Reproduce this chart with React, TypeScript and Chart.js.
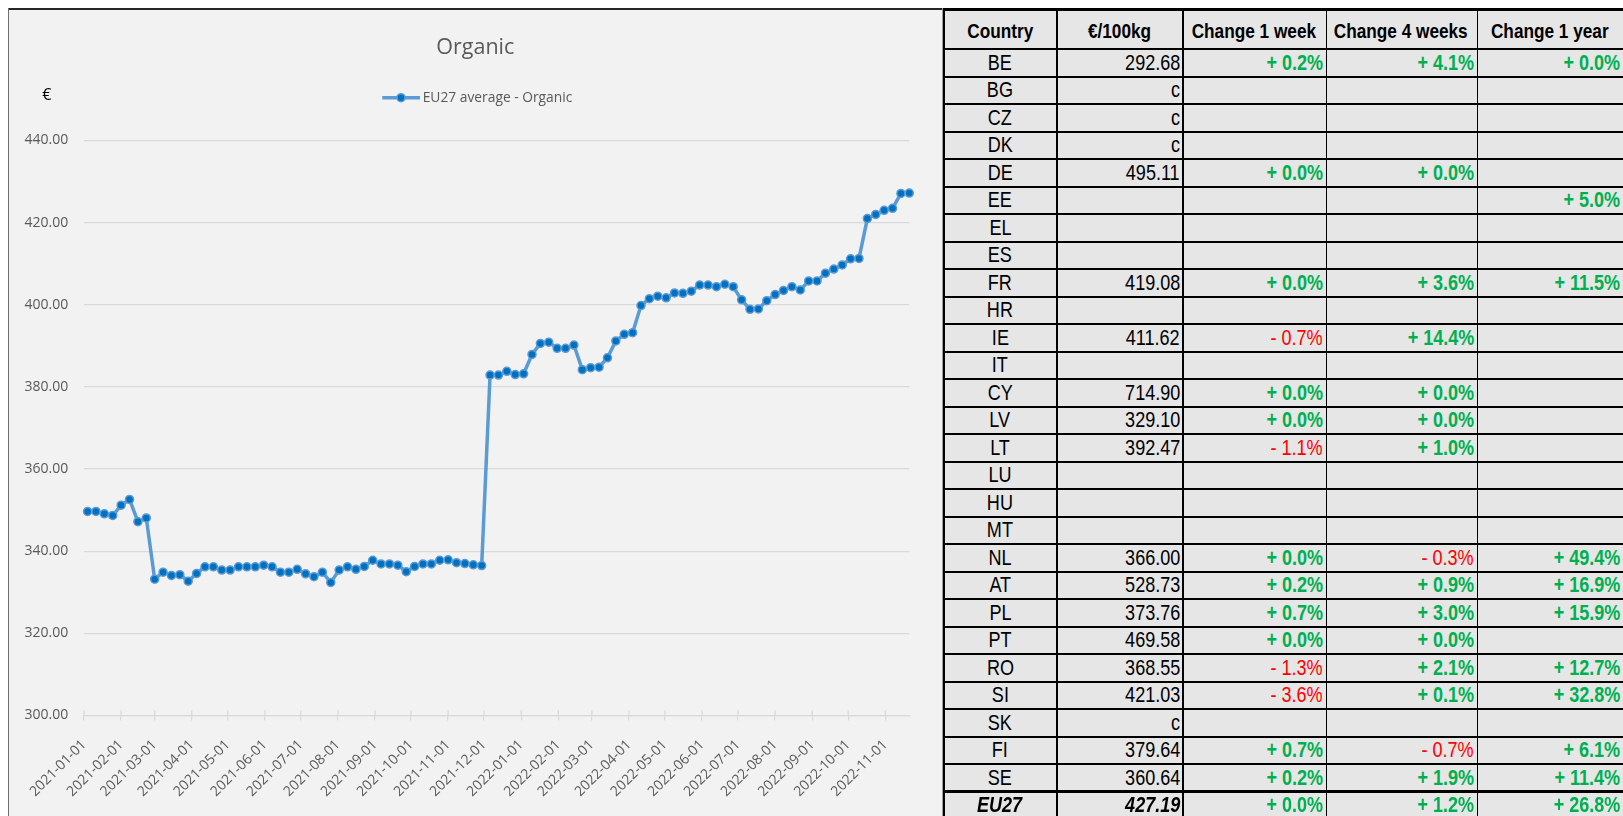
import React, { useEffect, useRef } from 'react';
import { Chart, registerables } from 'chart.js';

Chart.register(...registerables);

// ---------- chart data ----------
const chartTitle = 'Organic';
const seriesLabel = 'EU27 average - Organic';
const yUnitLabel = '€';
const axisStartDate = '2021-01-01';
const axisEndDate = '2022-11-21';
const firstWeekDate = '2021-01-04';

const organicValues = [
  349.7, 349.7, 349.1, 348.7, 351.2, 352.6, 347.2, 348.1, 333.2, 334.9,
  334.1, 334.3, 332.7, 334.6, 336.2, 336.2, 335.4, 335.4, 336.2, 336.2,
  336.2, 336.6, 336.2, 334.9, 334.9, 335.6, 334.5, 333.8, 334.9, 332.4,
  335.4, 336.2, 335.6, 336.3, 337.8, 336.9, 336.9, 336.6, 335.0, 336.3,
  336.9, 336.9, 337.8, 337.9, 337.2, 337.0, 336.7, 336.5,
  382.9, 382.9, 383.8, 383.0, 383.2, 387.9, 390.6, 390.9, 389.4, 389.4,
  390.2, 384.2, 384.7, 384.8, 387.1, 391.2, 392.8, 393.2, 399.8, 401.5,
  402.1, 401.7, 402.9, 402.8, 403.3, 404.8, 404.8, 404.4, 405.0, 404.4,
  401.2, 398.9, 399.0, 401.0, 402.5, 403.5, 404.4, 403.6, 405.8, 405.8,
  407.7, 408.7, 409.7, 411.2, 411.3, 421.0, 422.0, 423.0, 423.5, 427.1,
  427.19,
];

const monthTickLabels = [
  '2021-01-01', '2021-02-01', '2021-03-01', '2021-04-01', '2021-05-01', '2021-06-01',
  '2021-07-01', '2021-08-01', '2021-09-01', '2021-10-01', '2021-11-01', '2021-12-01',
  '2022-01-01', '2022-02-01', '2022-03-01', '2022-04-01', '2022-05-01', '2022-06-01',
  '2022-07-01', '2022-08-01', '2022-09-01', '2022-10-01', '2022-11-01',
];

const yMin = 300;
const yMax = 440;
const yStep = 20;

// ---------- table data ----------
const tableHeaders = ['Country', '€/100kg', 'Change 1 week', 'Change 4 weeks', 'Change 1 year'];
const countries = ['BE', 'BG', 'CZ', 'DK', 'DE', 'EE', 'EL', 'ES', 'FR', 'HR', 'IE', 'IT', 'CY', 'LV', 'LT', 'LU', 'HU', 'MT', 'NL', 'AT', 'PL', 'PT', 'RO', 'SI', 'SK', 'FI', 'SE', 'EU27'];
const prices = ['292.68', 'c', 'c', 'c', '495.11', '', '', '', '419.08', '', '411.62', '', '714.90', '329.10', '392.47', '', '', '', '366.00', '528.73', '373.76', '469.58', '368.55', '421.03', 'c', '379.64', '360.64', '427.19'];
const change1Week = ['+ 0.2%', '', '', '', '+ 0.0%', '', '', '', '+ 0.0%', '', '- 0.7%', '', '+ 0.0%', '+ 0.0%', '- 1.1%', '', '', '', '+ 0.0%', '+ 0.2%', '+ 0.7%', '+ 0.0%', '- 1.3%', '- 3.6%', '', '+ 0.7%', '+ 0.2%', '+ 0.0%'];
const change4Weeks = ['+ 4.1%', '', '', '', '+ 0.0%', '', '', '', '+ 3.6%', '', '+ 14.4%', '', '+ 0.0%', '+ 0.0%', '+ 1.0%', '', '', '', '- 0.3%', '+ 0.9%', '+ 3.0%', '+ 0.0%', '+ 2.1%', '+ 0.1%', '', '- 0.7%', '+ 1.9%', '+ 1.2%'];
const change1Year = ['+ 0.0%', '', '', '', '', '+ 5.0%', '', '', '+ 11.5%', '', '', '', '', '', '', '', '', '', '+ 49.4%', '+ 16.9%', '+ 15.9%', '', '+ 12.7%', '+ 32.8%', '', '+ 6.1%', '+ 11.4%', '+ 26.8%'];

// ---------- helpers ----------
const dayMs = 86400000;
const toUTC = (s: string) => {
  const [y, m, d] = s.split('-').map(Number);
  return Date.UTC(y, m - 1, d);
};
const dayOf = (s: string) => Math.round((toUTC(s) - toUTC(axisStartDate)) / dayMs);

const chartFont = '"Open Sans", "Noto Sans", sans-serif';
const axisGray = '#595959';
const gridGray = '#d9d9d9';

const CANVAS_W = 935;
const CANVAS_H = 808;

function OrganicChart() {
  const ref = useRef<HTMLCanvasElement | null>(null);
  useEffect(() => {
    const canvas = ref.current;
    if (!canvas) return;
    const start = dayOf(firstWeekDate);
    const points = organicValues.map((v, i) => ({ x: start + 7 * i, y: v }));
    const tickDays = monthTickLabels.map(dayOf);

    const decor = {
      id: 'decor',
      afterDraw(chart: any) {
        const { ctx } = chart;
        const x = chart.scales.x;
        ctx.save();
        // upper halves of the crossing tick marks
        ctx.strokeStyle = gridGray;
        ctx.lineWidth = 1.3;
        tickDays.forEach((d: number) => {
          const px = x.getPixelForValue(d);
          ctx.beginPath();
          ctx.moveTo(px, x.top - 5);
          ctx.lineTo(px, x.top);
          ctx.stroke();
        });
        // title
        ctx.fillStyle = axisGray;
        ctx.font = `21.5px ${chartFont}`;
        ctx.textAlign = 'center';
        ctx.textBaseline = 'middle';
        ctx.fillText(chartTitle, 467.3, 39.5);
        // legend
        const ds = chart.data.datasets[0];
        ctx.strokeStyle = ds.borderColor;
        ctx.lineWidth = ds.borderWidth;
        ctx.beginPath();
        ctx.moveTo(374.3, 89.7);
        ctx.lineTo(412, 89.7);
        ctx.stroke();
        ctx.beginPath();
        ctx.arc(393, 89.7, ds.pointRadius, 0, Math.PI * 2);
        ctx.fillStyle = ds.pointBackgroundColor;
        ctx.fill();
        ctx.lineWidth = ds.pointBorderWidth;
        ctx.strokeStyle = ds.pointBorderColor;
        ctx.stroke();
        ctx.fillStyle = axisGray;
        ctx.font = `13.8px ${chartFont}`;
        ctx.textAlign = 'left';
        ctx.fillText(seriesLabel, 414.7, 90);
        // unit label
        ctx.fillStyle = '#000000';
        ctx.font = `16px ${chartFont}`;
        ctx.textAlign = 'center';
        ctx.fillText(yUnitLabel, 38.7, 87);
        ctx.restore();
      },
    };

    const chart = new Chart(canvas, {
      type: 'line',
      data: {
        datasets: [
          {
            label: seriesLabel,
            data: points,
            borderColor: '#5b9bd5',
            borderWidth: 3.5,
            pointRadius: 4,
            pointBackgroundColor: '#0070c0',
            pointBorderColor: '#5b9bd5',
            pointBorderWidth: 1.5,
            tension: 0,
            clip: false as any,
          },
        ],
      },
      options: {
        animation: false,
        responsive: false,
        maintainAspectRatio: false,
        devicePixelRatio: 1,
        layout: { padding: { top: 132.5, left: 0, right: 33.7, bottom: 0 } },
        plugins: {
          legend: { display: false },
          title: { display: false },
          tooltip: { enabled: false },
        },
        scales: {
          x: {
            type: 'linear',
            min: dayOf(axisStartDate),
            max: dayOf(axisEndDate),
            afterBuildTicks: (scale: any) => {
              scale.ticks = tickDays.map((v) => ({ value: v }));
            },
            afterFit: (scale: any) => {
              scale.height = 100.5;
            },
            ticks: {
              autoSkip: false,
              minRotation: 45,
              maxRotation: 45,
              padding: 16,
              color: axisGray,
              font: { family: chartFont, size: 14 },
              callback: (value: any) => {
                const i = tickDays.indexOf(Number(value));
                return i >= 0 ? monthTickLabels[i] : '';
              },
            },
            grid: {
              display: true,
              drawOnChartArea: false,
              drawTicks: true,
              tickLength: 5,
              color: gridGray,
              lineWidth: 1.3,
            },
            border: { display: true, color: gridGray, width: 1.3 },
          },
          y: {
            min: yMin,
            max: yMax,
            afterFit: (scale: any) => {
              scale.width = 76;
            },
            ticks: {
              stepSize: yStep,
              padding: 15.7,
              color: axisGray,
              font: { family: chartFont, size: 14 },
              callback: (value: any) => Number(value).toFixed(2),
            },
            grid: { color: gridGray, lineWidth: 1.3, drawTicks: false },
            border: { display: false },
          },
        },
      },
      plugins: [decor],
    } as any);
    return () => chart.destroy();
  }, []);

  return (
    <div
      style={{
        position: 'fixed',
        left: 8,
        top: 8,
        width: CANVAS_W,
        height: CANVAS_H,
        background: '#f2f2f2',
        boxShadow: 'inset 1px 0 0 #6f6f6f, inset -1px 0 0 #9a9a9a, inset 0 2px 0 #262626',
      }}
    >
      <canvas
        ref={ref}
        width={CANVAS_W}
        height={CANVAS_H}
        style={{ position: 'absolute', left: 0, top: 0, width: CANVAS_W, height: CANVAS_H }}
      />
    </div>
  );
}

// ---------- table ----------
const colEdges = [944, 1057, 1183, 1326, 1477, 1623];
const headerTop = 9;
const headerBottom = 49;
const rowH = 27.5;
const tableFont = '"Liberation Sans", Arial, sans-serif';
const green = '#00b050';
const red = '#ff0000';

function Cell(props: {
  col: number;
  top: number;
  height: number;
  text: string;
  align: 'center' | 'right';
  bold?: boolean;
  italic?: boolean;
  color?: string;
  size: number;
}) {
  const { col, top, height, text, align, bold, italic, color, size } = props;
  const left = colEdges[col];
  const width = colEdges[col + 1] - colEdges[col];
  return (
    <div
      style={{
        position: 'absolute',
        left: left + 2,
        width: width - 5,
        top,
        height,
        display: 'flex',
        alignItems: 'center',
        justifyContent: align === 'center' ? 'center' : 'flex-end',
        overflow: 'visible',
        whiteSpace: 'nowrap',
      }}
    >
      <span
        style={{
          display: 'inline-block',
          transform: 'scaleX(0.82)',
          transformOrigin: align === 'center' ? 'center center' : 'right center',
          fontFamily: tableFont,
          fontSize: size,
          fontWeight: bold ? 700 : 400,
          fontStyle: italic ? 'italic' : 'normal',
          color: color || '#000',
          lineHeight: 1,
        }}
      >
        {text}
      </span>
    </div>
  );
}

function changeColor(s: string) {
  return s.trim().startsWith('-') ? red : green;
}

function PriceTable() {
  const cells: any[] = [];
  tableHeaders.forEach((h, c) => {
    cells.push(
      <Cell key={`h${c}`} col={c} top={headerTop + 1} height={headerBottom - headerTop} text={h} align="center" bold size={21} />
    );
  });
  countries.forEach((country, r) => {
    const top = headerBottom + r * rowH;
    const isTotal = r === countries.length - 1;
    cells.push(<Cell key={`c${r}`} col={0} top={top} height={rowH} text={country} align="center" size={22} bold={isTotal} italic={isTotal} />);
    cells.push(<Cell key={`p${r}`} col={1} top={top} height={rowH} text={prices[r]} align="right" size={22} bold={isTotal} italic={isTotal} />);
    [change1Week, change4Weeks, change1Year].forEach((arr, k) => {
      const v = arr[r];
      if (!v) return;
      const neg = v.trim().startsWith('-');
      cells.push(
        <Cell key={`v${r}-${k}`} col={2 + k} top={top} height={rowH} text={v} align="right" size={22} bold={!neg} color={changeColor(v)} />
      );
    });
  });

  const lines: any[] = [];
  const hLines: { y: number; w: number }[] = [{ y: 9.3, w: 2.5 }, { y: headerBottom, w: 2.2 }];
  for (let k = 1; k < countries.length; k++) {
    hLines.push({ y: headerBottom + k * rowH, w: k === countries.length - 1 ? 3.5 : 2 });
  }
  hLines.forEach((l, i) => {
    lines.push(
      <div key={`hl${i}`} style={{ position: 'absolute', left: colEdges[0] - 1, width: 1623 - colEdges[0] + 1, top: l.y - l.w / 2, height: l.w, background: '#000' }} />
    );
  });
  const vLines = [
    { x: colEdges[0], w: 2.3 },
    { x: colEdges[1], w: 2 },
    { x: colEdges[2], w: 2 },
    { x: colEdges[3], w: 1 },
    { x: colEdges[4], w: 1 },
  ];
  vLines.forEach((l, i) => {
    lines.push(
      <div key={`vl${i}`} style={{ position: 'absolute', left: l.x - l.w / 2, width: l.w, top: 8, height: 808, background: '#000' }} />
    );
  });

  return (
    <div style={{ position: 'fixed', left: 0, top: 0, width: 1623, height: 816, pointerEvents: 'none' }}>
      <div style={{ position: 'absolute', left: colEdges[0], top: 9, width: 1623 - colEdges[0], height: 807, background: '#e6e6e6' }} />
      {lines}
      {cells}
    </div>
  );
}

export default function App() {
  return (
    <div>
      <OrganicChart />
      <PriceTable />
    </div>
  );
}
